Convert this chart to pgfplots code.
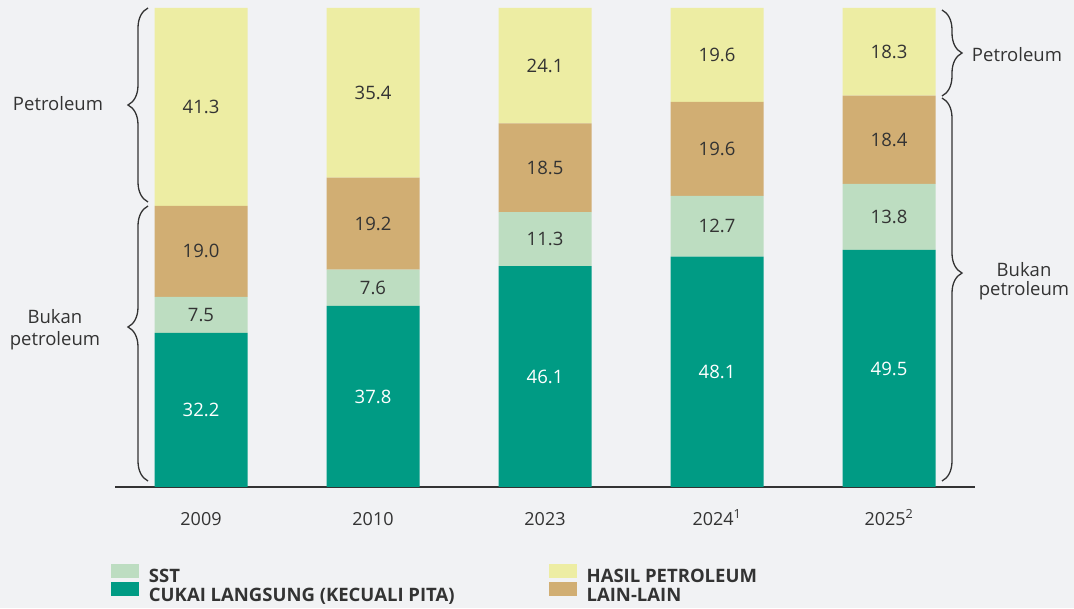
\documentclass[border=0pt]{standalone}
\usepackage{pgfplots}
\pgfplotsset{compat=1.18}
\usepackage{pgfplotstable}
\usepackage{fontspec}
\setmainfont{Open Sans}
\newfontfamily\legfont{Open Sans}
\usetikzlibrary{decorations.pathreplacing}
\definecolor{bgc}{HTML}{F1F2F4}
\definecolor{txt}{HTML}{333333}
\definecolor{cukai}{HTML}{009B84}
\definecolor{sst}{HTML}{BDDDC1}
\definecolor{lain}{HTML}{D1AE73}
\definecolor{hasil}{HTML}{EDEDA3}

\pgfplotstableread{
x cukai sst lain hasil
0 32.2 7.5 19.0 41.3
1 37.8 7.6 19.2 35.4
2 46.1 11.3 18.5 24.1
3 48.1 12.7 19.6 19.6
4 49.5 13.8 18.4 18.3
}\datatable

\begin{document}
\begin{tikzpicture}[x=1pt,y=1pt]
\path[use as bounding box, fill=bgc] (0,0) rectangle (1074,608);
\begin{axis}[
  at={(115pt,121pt)}, anchor=south west,
  scale only axis, width=860pt, height=479pt,
  xmin=-0.5, xmax=4.5, ymin=0, ymax=100,
  clip=false,
  ybar stacked, bar width=93pt,
  axis x line*=bottom, axis y line=none,
  x axis line style={-, draw=txt, line width=1.2pt},
  xtick={0,1,2,3,4},
  xticklabels={2009,2010,2023,2024\textsuperscript{1},2025\textsuperscript{2}},
  major tick length=0pt,
  xticklabel style={font=\fontsize{18}{20}\selectfont, text=txt, text height=13pt, text depth=0pt, inner sep=0pt, anchor=north, yshift=-25pt},
  ytick=\empty,
  /pgf/number format/assume math mode=true,
  nodes near coords={\pgfmathprintnumber[fixed,fixed zerofill,precision=1]{\rawy}},
  every node near coord/.append style={anchor=center, font=\fontsize{18.5}{20}\selectfont, text=txt},
  legend columns=2,
  legend cell align=left,
  legend image code/.code={\fill[#1] (0pt,-1pt) rectangle (28pt,13pt);},
  legend style={draw=none, fill=none, inner sep=0pt, outer sep=0pt,
    at={(axis description cs:-0.0047,-0.1603)}, anchor=north west,
    font=\fontsize{18.5}{20}\selectfont\legfont\bfseries, text=txt,
    row sep=-4pt,
    /tikz/every odd column/.append style={column sep=8pt},
    /tikz/every even column/.append style={column sep=92pt}},
]
\addlegendimage{fill=sst, draw=none}
\addlegendentry{SST}
\addlegendimage{fill=hasil, draw=none}
\addlegendentry{HASIL PETROLEUM}
\addlegendimage{fill=cukai, draw=none}
\addlegendentry{CUKAI LANGSUNG (KECUALI PITA)}
\addlegendimage{fill=lain, draw=none}
\addlegendentry{LAIN-LAIN}

\addplot[fill=cukai, draw=none, forget plot, visualization depends on={\thisrow{cukai}\as\rawy}, every node near coord/.append style={text=white}] table[x=x,y=cukai]{\datatable};
\addplot[fill=sst, draw=none, forget plot, visualization depends on={\thisrow{sst}\as\rawy}] table[x=x,y=sst]{\datatable};
\addplot[fill=lain, draw=none, forget plot, visualization depends on={\thisrow{lain}\as\rawy}] table[x=x,y=lain]{\datatable};
\addplot[fill=hasil, draw=none, forget plot, visualization depends on={\thisrow{hasil}\as\rawy}] table[x=x,y=hasil]{\datatable};
\end{axis}

\begin{scope}[txt, line width=1.3pt, decoration={brace, amplitude=20pt}]
\draw[decorate, decoration={aspect=0.5}] (148,406) -- (148,600);
\draw[decorate, decoration={aspect=0.56}] (148,127) -- (148,402);
\draw[decorate, decoration={aspect=0.5}] (942,598) -- (942,512);
\draw[decorate, decoration={aspect=0.457}] (942,510) -- (942,127);
\end{scope}

\begin{scope}[every node/.style={text=txt, font=\fontsize{18.5}{22}\selectfont, anchor=base, inner sep=0pt}]
\node at (58,497) {Petroleum};
\node at (55,284) {Bukan};
\node at (55,262) {petroleum};
\node at (1017,546) {Petroleum};
\node at (1024,331) {Bukan};
\node at (1024,312) {petroleum};
\end{scope}
\end{tikzpicture}
\end{document}
